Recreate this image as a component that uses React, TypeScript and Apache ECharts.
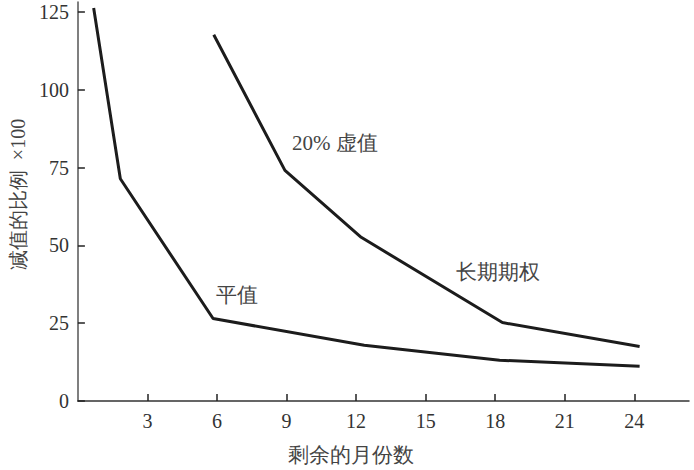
import React, { useEffect, useRef } from "react";
import * as echarts from "echarts";

const xTicks = [3, 6, 9, 12, 15, 18, 21, 24];
const yTicks = [0, 25, 50, 75, 100, 125];

const atmMonths = [0.68, 1.83, 5.83, 12.35, 18.19, 24.23];
const atmValues = [126.3, 71.4, 26.5, 17.9, 13.1, 11.2];

const otmMonths = [5.86, 8.93, 12.22, 18.31, 24.23];
const otmValues = [117.7, 74.1, 52.6, 25.2, 17.5];

const xName = "剩余的月份数";
const yName = "减值的比例  ×100";
const labelOtm = "20% 虚值";
const labelLong = "长期期权";
const labelAtm = "平值";

const FONT = "Liberation Serif";
const LINE = "#1c1c1c";

export default function App() {
  const ref = useRef<HTMLDivElement>(null);
  useEffect(() => {
    if (!ref.current) return;
    const chart = echarts.init(ref.current, undefined, { renderer: "svg" });
    const pairs = (xs: number[], ys: number[]) => xs.map((x, i) => [x, ys[i]]);
    chart.setOption({
      animation: false,
      backgroundColor: "#ffffff",
      textStyle: { fontFamily: FONT },
      grid: { left: 70, right: 5, top: 2, bottom: 66, containLabel: false },
      xAxis: {
        type: "value",
        min: 0,
        max: 26.36,
        name: xName,
        nameLocation: "middle",
        nameGap: 43,
        nameTextStyle: { fontFamily: FONT, fontSize: 21, color: "#444", padding: [0, 64, 0, 0] },
        axisLine: { show: true, lineStyle: { color: "#333", width: 1.5 } },
        axisTick: { show: true, inside: true, length: 7, customValues: xTicks, lineStyle: { color: "#222", width: 1.5 } },
        axisLabel: { customValues: xTicks, fontFamily: FONT, fontSize: 20, color: "#333", margin: 10 },
        splitLine: { show: false },
      },
      yAxis: {
        type: "value",
        min: 0,
        max: 128.2,
        name: yName,
        nameLocation: "middle",
        nameGap: 48,
        nameRotate: 90,
        nameTextStyle: { fontFamily: FONT, fontSize: 20, color: "#444", padding: [0, 0, 0, 14] },
        axisLine: { show: true, lineStyle: { color: "#555", width: 1.5 } },
        axisTick: { show: true, inside: true, length: 7, customValues: yTicks, lineStyle: { color: "#222", width: 1.5 } },
        axisLabel: { customValues: yTicks, fontFamily: FONT, fontSize: 20, color: "#333", margin: 9 },
        splitLine: { show: false },
      },
      series: [
        {
          type: "line",
          data: pairs(atmMonths, atmValues),
          symbol: "none",
          lineStyle: { color: LINE, width: 3 },
        },
        {
          type: "line",
          data: pairs(otmMonths, otmValues),
          symbol: "none",
          lineStyle: { color: LINE, width: 3 },
        },
      ],
      graphic: [
        { type: "text", left: 292, top: 132, style: { text: labelOtm, fontFamily: FONT, fontSize: 21, fill: "#444" } },
        { type: "text", left: 456, top: 261, style: { text: labelLong, fontFamily: FONT, fontSize: 21, fill: "#444" } },
        { type: "text", left: 216, top: 284, style: { text: labelAtm, fontFamily: FONT, fontSize: 21, fill: "#444" } },
      ],
    });
    return () => chart.dispose();
  }, []);
  return <div ref={ref} style={{ position: "absolute", left: 0, top: 0, width: 694, height: 470 }} />;
}
